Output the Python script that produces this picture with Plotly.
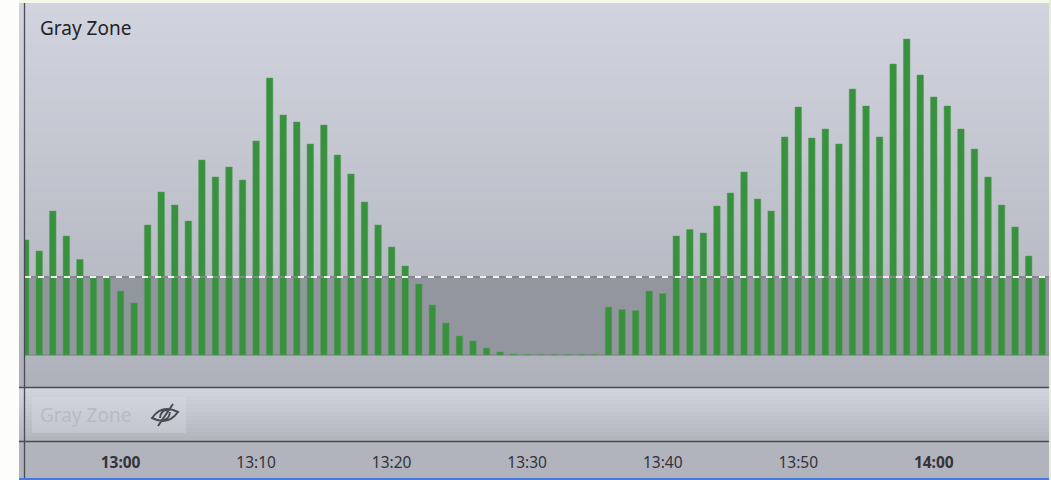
import plotly.graph_objects as go
import pandas as pd

W, H = 1051, 480
L, R, T, B = 25, 1049, 3, 442

start_time = "2024-01-01 12:53"
bar_values = [115, 104, 144, 119, 95.5, 79, 77, 64, 52, 130, 163, 150, 134, 195, 178, 188,
              175, 214, 277, 240, 233, 211, 230, 200, 181, 153, 130, 108, 89, 71, 50, 32,
              19, 14, 7, 3, 1, 0.5, 0.5, 0.5, 0.5, 0.5, 0.5, 48, 45.5, 44.5, 64, 61.5,
              119, 125.5, 122, 149, 162, 183, 156, 144, 218, 248, 217, 226, 211, 266, 249,
              218, 291, 316, 280, 258, 249, 226, 206, 178, 150, 128, 99, 77]
threshold = 78
times = pd.date_range(start_time, periods=len(bar_values), freq="min")
tick_vals = ["2024-01-01 13:00", "2024-01-01 13:10", "2024-01-01 13:20", "2024-01-01 13:30",
             "2024-01-01 13:40", "2024-01-01 13:50", "2024-01-01 14:00"]
tick_text = ["<b>13:00</b>", "13:10", "13:20", "13:30", "13:40", "13:50", "<b>14:00</b>"]
title_text = "Gray Zone"


def px(x):
    return (x - L) / (R - L)


def py(y):
    return 1 - (y - T) / (B - T)


def rect(x0, y0, x1, y1, color, **kw):
    return dict(type="rect", xref="paper", yref="paper", x0=px(x0), x1=px(x1), y0=py(y0), y1=py(y1),
                fillcolor=color, line_width=0, layer="below", **kw)


def hline(y, x0, x1, color, width):
    return dict(type="line", xref="paper", yref="paper", x0=px(x0), x1=px(x1), y0=py(y), y1=py(y),
                line=dict(color=color, width=width))


def mix(c0, c1, t):
    return "rgb(%d,%d,%d)" % tuple(round(a + (b - a) * t) for a, b in zip(c0, c1))


shapes = [rect(0, 0, 19, H, "#fdfdfb"), rect(1049, 0, W, H, "#e7efd2")]
# gradient bands
step = 4
for y in range(T, 387, step):
    t = (y - T) / (387 - T)
    shapes.append(rect(19, y, R, min(y + step + 0.5, 387), mix((209, 212, 222), (174, 176, 186), t)))
for y in range(388, 441, step):
    t = (y - 388) / (441 - 388)
    shapes.append(rect(19, y, R, min(y + step + 0.5, 441), mix((209, 212, 222), (176, 178, 188), t)))
shapes.append(rect(19, 441, R, 478, "#b1b3bd"))
shapes.append(rect(19, 478, R, 480, "#4a78d8"))
# faded legend chip
shapes.append(rect(32, 397, 186, 433, "rgba(215,218,228,0.4)"))
# threshold zone
shapes.append(dict(type="rect", xref="paper", yref="y", x0=0, x1=1, y0=0, y1=threshold,
                   fillcolor="#93959f", line_width=0, layer="below"))
# threshold line and baseline
shapes.append(dict(type="line", xref="paper", yref="y", x0=0, x1=1, y0=threshold, y1=threshold,
                   line=dict(color="#85878f", width=2), layer="above"))
shapes.append(dict(type="line", xref="paper", yref="y", x0=0, x1=1, y0=threshold, y1=threshold,
                   line=dict(color="#f0f0ee", width=2, dash="6px,7px"), layer="above"))
shapes.append(dict(type="line", xref="paper", yref="y", x0=0, x1=1, y0=0, y1=0,
                   line=dict(color="#7c7e86", width=1), layer="below"))
# frame lines
shapes.append(hline(387.5, 19, R, "#4b4c52", 1.3))
shapes.append(hline(441.5, 19, R, "#4b4c52", 1.3))
shapes.append(dict(type="line", xref="paper", yref="paper", x0=px(24.5), x1=px(24.5), y0=py(3), y1=py(478),
                   line=dict(color="#4b4c52", width=1.3)))
# crossed-eye icon
icon = ("M -13,-3 Q -3,11 13,3 Q 3,-11 -13,-3 Z "
        "M -5,-3 Q -4,6 4,5 M 5,3 Q 4,-6 -4,-5 "
        "M -7,-11 L 8,11 ")
shapes.append(dict(type="path", xref="paper", yref="paper", xsizemode="pixel", ysizemode="pixel",
                   xanchor=px(165), yanchor=py(415), path=icon,
                   line=dict(color="#4a4b52", width=2)))

fig = go.Figure(go.Bar(x=times, y=bar_values, width=28800, marker=dict(color="#38913c", line=dict(color="#5a9f60", width=0.5))))
fig.update_layout(
    width=W, height=H, autosize=False,
    margin=dict(l=L, r=W - R, t=T, b=H - B),
    paper_bgcolor="#f5f7e8", plot_bgcolor="rgba(0,0,0,0)",
    showlegend=False, shapes=shapes,
    font=dict(family="Noto Sans"),
    annotations=[
        dict(text=title_text, xref="paper", yref="paper", x=px(38), y=py(28), xanchor="left", yanchor="middle",
             showarrow=False, font=dict(size=19, color="#222228", family="Noto Sans")),
        dict(text=title_text, xref="paper", yref="paper", x=px(38), y=py(415), xanchor="left", yanchor="middle",
             showarrow=False, font=dict(size=19, color="#b8bac4", family="Noto Sans")),
    ],
)
fig.update_xaxes(range=["2024-01-01 12:52:57", "2024-01-01 14:08:30"], tickmode="array", tickvals=tick_vals,
                 ticktext=tick_text, ticks="", showgrid=False, zeroline=False, showline=False,
                 tickfont=dict(size=15.5, color="#33343a", family="Noto Sans"), ticklabelstandoff=9)
fig.update_yaxes(range=[-87, 352], visible=False, fixedrange=True)
fig.write_html("out.html", config=dict(displayModeBar=False),
               post_script="document.body.style.margin='0';document.body.style.overflow='hidden';")
